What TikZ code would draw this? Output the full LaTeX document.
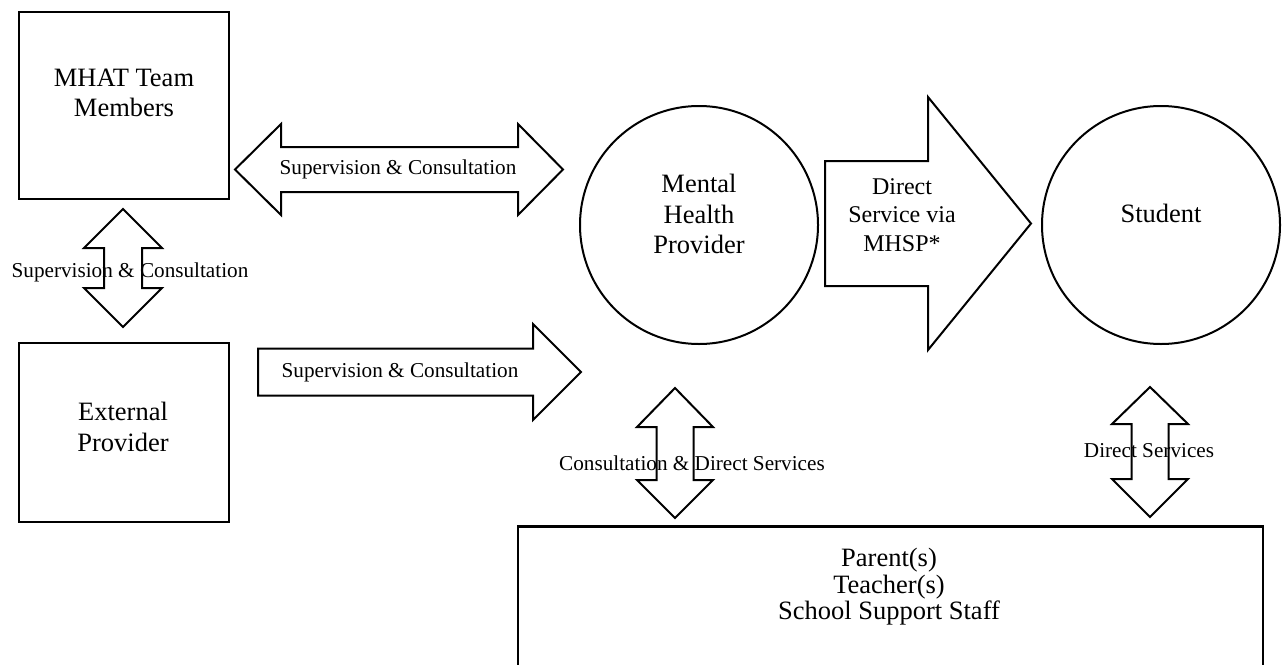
\documentclass[tikz,border=0pt]{standalone}
\usepackage{fontspec}
\setmainfont{Liberation Serif}
\begin{document}
\begin{tikzpicture}[x=1pt,y=-1pt,
  boxline/.style={draw=black,line width=2.8pt,fill=white,inner sep=0pt},
  circline/.style={draw=black,line width=2pt,circle,fill=white,inner sep=0pt,minimum size=238pt},
  blockarrow/.style={draw=black,line width=2pt,fill=white,line join=miter},
  bigtext/.style={align=center,inner sep=0pt,font=\fontsize{26.5}{30.5}\selectfont},
  midtext/.style={align=center,inner sep=0pt,font=\fontsize{24}{28.5}\selectfont},
  smalltext/.style={inner sep=0pt,font=\fontsize{21.2}{25}\selectfont}]
\useasboundingbox (0,0) rectangle (1282,664);
\clip (0,0) rectangle (1282,664);
\fill[white] (0,0) rectangle (1282,664);

% boxes
\node[boxline,minimum width=210pt,minimum height=187pt] (mhat) at (124,105.5) {};
\node[boxline,minimum width=210pt,minimum height=179pt] (ext) at (124,432.5) {};
\node[boxline,minimum width=745pt,minimum height=200pt,anchor=north west] (staff) at (516.5,525) {};

% circles
\node[circline] (mhp) at (699,225) {};
\node[circline] (stu) at (1161,225) {};

% block arrows
\draw[blockarrow] (235,169.5) -- (281,124) -- (281,147) -- (518,147) -- (518,124) -- (563,169.5)
  -- (518,215) -- (518,192) -- (281,192) -- (281,215) -- cycle;
\draw[blockarrow] (123,209) -- (162,248) -- (142,248) -- (142,288) -- (162,288) -- (123,327)
  -- (84,288) -- (104,288) -- (104,248) -- (84,248) -- cycle;
\draw[blockarrow] (258,348.5) -- (533,348.5) -- (533,324) -- (581,372) -- (533,420)
  -- (533,395.5) -- (258,395.5) -- cycle;
\draw[blockarrow] (825,161) -- (928,161) -- (928,97) -- (1031,223.5) -- (928,350)
  -- (928,286) -- (825,286) -- cycle;
\draw[blockarrow] (675,388) -- (713,427) -- (693.5,427) -- (693.5,480) -- (713,480) -- (675,518)
  -- (637,480) -- (656.5,480) -- (656.5,427) -- (637,427) -- cycle;
\draw[blockarrow] (1150,387) -- (1188,424) -- (1168.5,424) -- (1168.5,479) -- (1188,479) -- (1150,517)
  -- (1112,479) -- (1131.5,479) -- (1131.5,424) -- (1112,424) -- cycle;

% texts
\node[bigtext] (mhatt) at (124,93) {MHAT Team\\Members};
\node[bigtext] (extt) at (123,427) {External\\Provider};
\node[bigtext] (mhpt) at (699,214) {Mental\\Health\\Provider};
\node[bigtext] (stut) at (1161,213) {Student};
\node[bigtext,font=\fontsize{26.5}{26.5}\selectfont] (stafft) at (889,587) {Parent(s)\\Teacher(s)\\School Support Staff};
\node[midtext] (dirt) at (902,215) {Direct\\Service via\\MHSP*};

\node[smalltext] (l1) at (398,169.5) {Supervision \& Consultation};
\node[smalltext] (l2) at (130,272) {Supervision \& Consultation};
\node[smalltext] (l3) at (400,372) {Supervision \& Consultation};
\node[smalltext] (l4) at (692,463) {Consultation \& Direct Services};
\node[smalltext] (l5) at (1149,451) {Direct Services};
\end{tikzpicture}
\end{document}
